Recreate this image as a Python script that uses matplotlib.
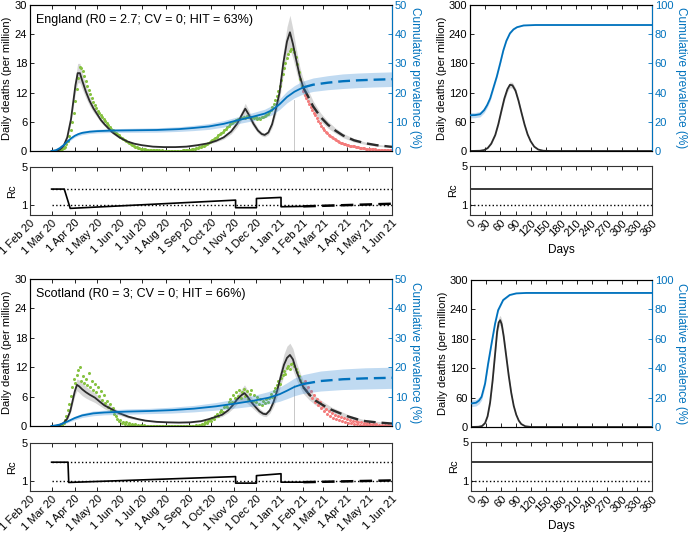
import numpy as np
import matplotlib
matplotlib.use('Agg')
import matplotlib.pyplot as plt

plt.rcParams['font.family'] = ['Liberation Sans', 'DejaVu Sans']
plt.rcParams['font.size'] = 8

BLACK = '#2b2b2b'
BLUE = '#0072BD'
GREEN = '#86c240'
RED = '#f47c7c'

# ---- time axis of the left panels (days since 1 Feb 2020) ----
month_labels = ['1 Feb 20', '1 Mar 20', '1 Apr 20', '1 May 20', '1 Jun 20', '1 Jul 20',
                '1 Aug 20', '1 Sep 20', '1 Oct 20', '1 Nov 20', '1 Dec 20', '1 Jan 21',
                '1 Feb 21', '1 Mar 21', '1 Apr 21', '1 May 21', '1 Jun 21']
month_dates = np.array(['2020-02-01', '2020-03-01', '2020-04-01', '2020-05-01', '2020-06-01',
                        '2020-07-01', '2020-08-01', '2020-09-01', '2020-10-01', '2020-11-01',
                        '2020-12-01', '2021-01-01', '2021-02-01', '2021-03-01', '2021-04-01',
                        '2021-05-01', '2021-06-01'], dtype='datetime64[D]')
month_days = (month_dates - month_dates[0]).astype(int)

OBS_START = 29      # first observed day (1 Mar 20)
TEST_START = 367    # first day not used in fitting
PROJ_START = 367    # model switches to projection (dashed)
FIT_END = 355

# ================= England =================
eng_model_days = [29, 35, 40, 45, 50, 55, 58, 61, 64, 67, 70, 75, 80, 85, 90, 95, 100, 110, 120, 130,
                  140, 150, 165, 180, 195, 210, 225, 240, 250, 260, 270, 278, 284, 289, 294, 300,
                  306, 311, 315, 320, 325, 330, 335, 340, 345, 349, 353, 357, 362, 367, 372, 380,
                  390, 400, 410, 420, 435, 450, 465, 486]
eng_model_deaths = [0.0, 0.05, 0.3, 1.0, 2.8, 6.5, 10.0, 13.5, 16.0, 16.0, 14.5, 12.2, 10.3, 8.8,
                    7.6, 6.4, 5.5, 3.9, 2.8, 2.0, 1.5, 1.2, 0.9, 0.8, 0.8, 0.9, 1.2, 1.6, 2.1, 2.8,
                    4.0, 5.6, 7.3, 8.7, 7.4, 5.6, 4.2, 3.5, 3.3, 3.8, 5.5, 8.5, 12.0, 18.0, 22.5,
                    24.4, 22.0, 19.0, 15.5, 13.0, 11.6, 9.2, 7.0, 5.4, 4.2, 3.2, 2.2, 1.6, 1.2, 0.85]
eng_model_band = [0.0, 0.02, 0.05, 0.15, 0.35, 0.7, 1.1, 1.5, 2.0, 2.0, 1.7, 1.3, 1.0, 0.8, 0.6,
                  0.5, 0.4, 0.3, 0.2, 0.15, 0.1, 0.1, 0.08, 0.08, 0.08, 0.1, 0.15, 0.2, 0.25, 0.35,
                  0.5, 0.7, 0.9, 1.1, 0.9, 0.7, 0.5, 0.4, 0.4, 0.45, 0.7, 1.0, 1.5, 2.3, 3.0, 3.5,
                  3.0, 2.4, 1.9, 1.6, 1.4, 1.1, 0.85, 0.7, 0.55, 0.45, 0.35, 0.25, 0.2, 0.15]
eng_prev_days = [29, 35, 40, 45, 50, 55, 60, 65, 70, 80, 90, 110, 140, 170, 200, 220, 240, 260,
                 280, 300, 315, 325, 335, 345, 355, 362, 367, 380, 400, 420, 440, 460, 486]
eng_prev = [0.0, 0.3, 1.0, 2.0, 3.2, 4.3, 5.2, 5.8, 6.2, 6.6, 6.8, 7.0, 7.1, 7.2, 7.5, 7.9, 8.4,
            9.3, 10.6, 11.8, 12.8, 14.0, 16.0, 18.5, 20.3, 21.2, 21.8, 22.7, 23.4, 23.9, 24.2,
            24.4, 24.6]
eng_prev_band = [0.0, 0.1, 0.2, 0.3, 0.4, 0.5, 0.5, 0.55, 0.6, 0.6, 0.6, 0.65, 0.7, 0.75, 0.8,
                 0.9, 1.0, 1.1, 1.2, 1.4, 1.5, 1.6, 1.8, 2.0, 2.1, 2.2, 2.2, 2.3, 2.4, 2.5, 2.5,
                 2.5, 2.5]
# observed daily deaths every second day, from OBS_START (fitted) and TEST_START (not fitted)
eng_obs_fit = [0.0, 0.0, 0.0, 0.05, 0.1, 0.15, 0.25, 0.4, 0.6, 0.9,
               1.4, 2.1, 3.0, 4.3, 5.9, 7.9, 10.2, 12.8, 15.0, 17.3,
               17.0, 16.4, 15.4, 14.3, 13.4, 12.5, 11.7, 10.9, 10.1, 9.4,
               8.8, 8.3, 7.8, 7.3, 6.9, 6.5, 6.1, 5.7, 5.3, 4.9,
               4.6, 4.3, 4.0, 3.7, 3.4, 3.2, 2.9, 2.7, 2.4, 2.2,
               2.0, 1.8, 1.6, 1.4, 1.2, 1.0, 0.9, 0.8, 0.7, 0.6,
               0.5, 0.45, 0.4, 0.35, 0.3, 0.3, 0.25, 0.25, 0.2, 0.2,
               0.15, 0.15, 0.15, 0.1, 0.15, 0.1, 0.1, 0.1, 0.1, 0.1,
               0.1, 0.1, 0.1, 0.1, 0.1, 0.1, 0.1, 0.1, 0.15, 0.15,
               0.2, 0.2, 0.25, 0.3, 0.35, 0.4, 0.5, 0.55, 0.65, 0.75,
               0.85, 1.0, 1.1, 1.3, 1.45, 1.6, 1.8, 2.0, 2.2, 2.45,
               2.7, 2.9, 3.2, 3.5, 3.7, 4.0, 4.3, 4.6, 4.9, 5.2,
               5.5, 5.7, 5.9, 6.1, 6.3, 6.5, 6.6, 6.8, 6.7, 7.0,
               6.8, 7.1, 6.9, 7.0, 6.8, 7.0, 6.7, 6.9, 6.6, 6.8,
               6.6, 6.9, 7.0, 7.2, 7.5, 7.7, 8.1, 8.5, 9.0, 9.6,
               10.4, 11.3, 12.3, 13.4, 14.6, 15.8, 17.0, 18.1, 19.2, 20.0,
               20.6, 21.0, 20.9, 20.4, 19.3, 17.8, 16.2, 14.8, 13.4]
eng_obs_test = [12.3, 11.6, 10.9, 10.2, 9.6, 9.0, 8.4, 7.9, 7.3, 6.8,
                6.2, 5.7, 5.2, 4.7, 4.3, 3.9, 3.6, 3.3, 3.0, 2.8,
                2.6, 2.4, 2.2, 2.0, 1.85, 1.7, 1.6, 1.5, 1.4, 1.3,
                1.2, 1.1, 1.05, 1.0, 0.95, 0.9, 0.8, 0.75, 0.7, 0.65,
                0.6, 0.55, 0.5, 0.5, 0.45, 0.45, 0.4, 0.35, 0.35, 0.3,
                0.3, 0.3, 0.25, 0.25, 0.2, 0.2, 0.2, 0.15, 0.15, 0.15]
eng_rc_days = [29, 46, 54, 276, 276, 304, 304, 337, 337, 367]
eng_rc = [2.7, 2.7, 0.69, 1.55, 0.76, 0.76, 1.72, 1.83, 0.86, 0.9]
eng_rc_proj_days = [367, 486]
eng_rc_proj = [0.9, 1.17]
eng_r0 = 2.7
eng_fit_line_top = 10.5
eng_title = 'England (R0 = 2.7; CV = 0; HIT = 63%)'

# England, unmitigated epidemic (right panels)
eng_free_days = [0, 20, 28, 35, 42, 50, 56, 62, 68, 74, 79, 84, 90, 96, 102, 108, 114, 120, 127,
                 135, 145, 160, 360]
eng_free_deaths = [0, 0.5, 2, 6, 15, 33, 55, 82, 108, 127, 136, 135, 124, 103, 78, 54, 34, 20, 9,
                   3, 0.5, 0, 0]
eng_free_band = [0, 0.1, 0.3, 0.8, 1.5, 2.5, 3.5, 4.5, 5, 5.5, 6, 6, 5.5, 5, 4, 3, 2, 1.2, 0.6,
                 0.3, 0.1, 0, 0]
eng_free_prev_days = [0, 10, 20, 28, 34, 40, 46, 53, 60, 66, 72, 79, 86, 93, 106, 130, 360]
eng_free_prev = [24.5, 24.6, 25.2, 28, 31.5, 36.1, 43, 51, 60.5, 69, 75.5, 80.6, 83.3, 84.8, 86,
                 86.3, 86.3]
eng_free_prev_band = [1.8, 1.8, 1.8, 1.8, 1.7, 1.6, 1.5, 1.3, 1.1, 0.9, 0.7, 0.5, 0.4, 0.3, 0.3,
                      0.3, 0.3]

# ================= Scotland =================
sco_model_days = [29, 35, 40, 45, 50, 54, 57, 60, 63, 66, 70, 75, 80, 87, 95, 100, 110, 120, 132,
                  145, 155, 170, 185, 200, 215, 230, 240, 250, 258, 266, 272, 278, 284, 288, 292,
                  297, 302, 308, 313, 317, 322, 327, 332, 337, 341, 345, 349, 353, 358, 363, 367,
                  375, 383, 395, 405, 418, 428, 440, 450, 465, 486]
sco_model_deaths = [0, 0.05, 0.2, 0.6, 1.5, 3.0, 5.0, 7.0, 8.4, 8.1, 7.5, 6.9, 6.4, 5.8, 4.8, 4.2,
                    3.4, 2.6, 1.9, 1.4, 1.1, 0.85, 0.75, 0.7, 0.75, 1.0, 1.4, 1.9, 2.3, 3.2, 4.2,
                    5.4, 6.3, 6.7, 6.0, 4.9, 4.0, 3.0, 2.5, 2.4, 3.2, 4.9, 7.3, 10.3, 12.5, 13.9,
                    14.5, 13.6, 11.1, 9.2, 7.9, 6.4, 5.2, 4.1, 3.3, 2.5, 1.9, 1.35, 1.0, 0.75, 0.5]
sco_model_band = [0, 0.02, 0.05, 0.1, 0.25, 0.45, 0.7, 0.9, 1.2, 1.3, 1.3, 1.2, 1.1, 1.0, 0.8,
                  0.7, 0.55, 0.4, 0.3, 0.2, 0.15, 0.12, 0.1, 0.1, 0.1, 0.15, 0.2, 0.3, 0.35, 0.5,
                  0.7, 0.9, 1.3, 1.7, 1.4, 1.0, 0.8, 0.6, 0.5, 0.5, 0.6, 0.9, 1.3, 1.8, 2.2, 2.4,
                  2.4, 2.2, 1.8, 1.5, 1.3, 1.1, 0.9, 0.7, 0.55, 0.45, 0.35, 0.3, 0.25, 0.2, 0.15]
sco_prev_days = [29, 35, 40, 50, 60, 70, 85, 100, 130, 160, 190, 220, 250, 280, 300, 320, 335,
                 345, 355, 362, 367, 390, 420, 450, 486]
sco_prev = [0, 0.2, 0.5, 1.5, 2.7, 3.6, 4.3, 4.6, 4.9, 5.1, 5.4, 5.9, 6.7, 7.8, 8.6, 9.6, 10.8,
            12.0, 13.3, 13.9, 14.3, 15.3, 15.9, 16.2, 16.4]
sco_prev_band = [0, 0.1, 0.2, 0.4, 0.6, 0.7, 0.8, 0.8, 0.9, 0.9, 1.0, 1.1, 1.3, 1.6, 1.8, 2.1,
                 2.4, 2.7, 3.0, 3.1, 3.2, 3.4, 3.5, 3.6, 3.6]
sco_obs_fit = [0.0, 0.0, 0.0, 0.0, 0.0, 0.1, 0.1, 0.3, 0.6, 1.2,
               2.0, 3.2, 4.5, 6.2, 8.0, 9.6, 8.8, 10.5, 11.5, 12.1,
               9.2, 10.3, 8.7, 9.6, 8.3, 10.8, 8.0, 9.1, 7.4, 8.6,
               7.0, 7.9, 6.2, 7.1, 5.4, 6.3, 4.6, 5.2, 3.9, 4.4,
               3.3, 3.6, 2.4, 2.0, 1.5, 1.1, 1.3, 0.7, 0.9, 0.4,
               0.8, 0.3, 0.6, 0.2, 0.5, 0.2, 0.4, 0.1, 0.3, 0.1,
               0.2, 0.0, 0.2, 0.0, 0.1, 0.0, 0.1, 0.0, 0.1, 0.0,
               0.0, 0.1, 0.0, 0.0, 0.1, 0.0, 0.0, 0.0, 0.1, 0.0,
               0.0, 0.0, 0.1, 0.0, 0.0, 0.0, 0.0, 0.1, 0.0, 0.0,
               0.0, 0.1, 0.0, 0.0, 0.1, 0.0, 0.1, 0.2, 0.1, 0.3,
               0.2, 0.5, 0.4, 0.8, 0.7, 1.1, 1.3, 1.0, 1.7, 1.5,
               2.1, 2.4, 2.0, 2.9, 3.3, 2.8, 3.8, 4.3, 3.9, 5.0,
               5.6, 4.8, 6.4, 5.7, 7.0, 6.2, 7.4, 5.8, 6.9, 7.5,
               6.1, 7.2, 5.5, 6.6, 7.3, 5.2, 6.3, 4.8, 5.9, 4.5,
               5.6, 4.3, 5.2, 4.6, 5.5, 4.9, 5.8, 6.5, 5.9, 7.2,
               7.8, 8.4, 9.1, 8.6, 9.8, 10.4, 11.2, 10.6, 11.8, 12.3,
               11.7, 12.6, 12.9, 12.2, 11.6, 11.0, 10.2, 9.3, 8.8]
sco_obs_test = [8.5, 9.2, 7.4, 8.0, 6.6, 7.1, 5.8, 6.3, 5.0, 5.6,
                4.3, 4.8, 3.6, 4.1, 3.0, 3.5, 2.5, 3.0, 2.0, 2.6,
                1.7, 2.3, 1.4, 2.0, 1.2, 1.8, 1.0, 1.6, 0.8, 1.4,
                0.7, 1.2, 0.6, 1.1, 0.5, 1.0, 0.4, 0.9, 0.3, 0.8,
                0.3, 0.7, 0.2, 0.6, 0.2, 0.5, 0.1, 0.5, 0.1, 0.4,
                0.1, 0.3, 0.1, 0.3, 0.0, 0.2, 0.0, 0.2, 0.0, 0.1]
sco_rc_days = [29, 51, 52, 276, 276, 304, 304, 337, 337, 367]
sco_rc = [3.0, 3.0, 0.89, 1.5, 0.82, 0.82, 1.6, 1.8, 0.92, 0.92]
sco_rc_proj_days = [367, 486]
sco_rc_proj = [0.92, 1.1]
sco_r0 = 3.0
sco_fit_line_top = 8.4
sco_title = 'Scotland (R0 = 3; CV = 0; HIT = 66%)'

sco_free_days = [0, 15, 22, 28, 33, 38, 43, 48, 52, 55, 58, 61, 65, 70, 75, 80, 85, 90, 95, 100,
                 108, 120, 360]
sco_free_deaths = [0, 0.5, 2, 8, 22, 50, 95, 150, 195, 213, 218, 210, 185, 145, 105, 70, 43, 25,
                   13, 6, 1.5, 0, 0]
sco_free_band = [0, 0.1, 0.4, 1, 2.5, 4, 6, 8, 9, 10, 10, 10, 9, 8, 6, 4.5, 3, 2, 1, 0.5, 0.2, 0, 0]
sco_free_prev_days = [0, 10, 16, 21, 28, 34, 41, 48, 54, 64, 77, 90, 110, 360]
sco_free_prev = [16, 16.5, 18, 20.5, 29.6, 43, 57, 70.5, 79.5, 86.4, 89.8, 90.9, 91.2, 91.2]
sco_free_prev_band = [2.2, 2.2, 2.2, 2.2, 2.1, 2.0, 1.7, 1.3, 1.0, 0.6, 0.4, 0.3, 0.3, 0.3]

free_day_ticks = list(range(0, 361, 30))


W, H = 689, 533
def box(x0, y0, x1, y1):
    return [x0 / W, 1 - y1 / H, (x1 - x0) / W, (y1 - y0) / H]


def band(ax, x, y, half, color, alpha, z):
    x = np.asarray(x); y = np.asarray(y); half = np.asarray(half)
    ax.fill_between(x, y - half, y + half, color=color, alpha=alpha, lw=0, zorder=z)


def split_line(ax, x, y, cut, color, z):
    x = np.asarray(x); y = np.asarray(y)
    ax.plot(x[x <= cut], y[x <= cut], color=color, lw=1.3, zorder=z)
    ax.plot(x[x >= cut], y[x >= cut], color=color, lw=1.7, dashes=(5, 2.5), zorder=z)


def style_axes(ax):
    for s in ax.spines.values():
        s.set_color('#333333')
        s.set_linewidth(0.8)
    ax.tick_params(direction='in', length=3, width=0.6, top=True, labelsize=8, pad=2)


def style_twin(ax2, top):
    ax2.set_ylim(0, top)
    ax2.set_yticks(np.linspace(0, top, 6))
    ax2.spines['right'].set_color(BLUE)
    ax2.tick_params(axis='y', colors=BLUE, direction='in', length=3, width=0.6,
                    labelsize=8, pad=2)
    ax2.set_ylabel('Cumulative prevalence (%)', color=BLUE, rotation=270, labelpad=10, fontsize=8.5)


def draw_country(pos_main, pos_rc, title, mdays, mdeaths, mband, pdays, prev, pband,
                 obs_fit, obs_test, rc_days, rc, rcp_days, rcp, r0, fit_top):
    ax = fig.add_axes(pos_main)
    ax2 = ax.twinx()
    band(ax, mdays, mdeaths, mband, '#8c8c8c', 0.35, 1)
    ax.plot([FIT_END, FIT_END], [0, fit_top], color='#c8c8c8', lw=0.7, zorder=1)
    fit_days = OBS_START + 2 * np.arange(len(obs_fit))
    test_days = TEST_START + 2 * np.arange(len(obs_test))
    ax.plot(fit_days, obs_fit, 'o', ms=2.2, color=GREEN, mew=0, zorder=2)
    ax.plot(test_days, obs_test, 'o', ms=2.2, color=RED, mew=0, zorder=2)
    split_line(ax, mdays, mdeaths, PROJ_START, BLACK, 3)
    band(ax2, pdays, prev, pband, '#3c8dd6', 0.32, 1)
    split_line(ax2, pdays, prev, PROJ_START, BLUE, 3)

    ax.set_xlim(0, month_days[-1])
    ax.set_ylim(0, 30)
    ax.set_yticks(range(0, 31, 6))
    ax.set_xticks(month_days)
    ax.set_xticklabels([])
    style_axes(ax)
    ax.tick_params(axis='y', right=False)
    style_twin(ax2, 50)
    ax.set_ylabel('Daily deaths (per million)', fontsize=8)
    ax.yaxis.set_label_coords(-0.05, 0.5)
    ax.text(0.017, 0.895, title, transform=ax.transAxes, fontsize=9, va='center')

    rax = fig.add_axes(pos_rc)
    rax.plot([OBS_START, month_days[-1]], [r0, r0], ':', color='black', lw=1)
    rax.plot([OBS_START, month_days[-1]], [1, 1], ':', color='black', lw=1)
    rax.plot(rc_days, rc, color='black', lw=1.2)
    rax.plot(rcp_days, rcp, color='black', lw=1.8, dashes=(5, 2.5))
    rax.set_xlim(0, month_days[-1])
    rax.set_ylim(0, 5)
    rax.set_yticks([1, 5])
    rax.set_xticks(month_days)
    rax.set_xticklabels(month_labels, rotation=45, ha='right', rotation_mode='anchor')
    style_axes(rax)
    rax.set_ylabel('Rc', fontsize=8)
    rax.yaxis.set_label_coords(-0.036, 0.5)


def draw_free(pos_main, pos_rc, fdays, fdeaths, fband, pdays, prev, pband, r0):
    ax = fig.add_axes(pos_main)
    ax2 = ax.twinx()
    band(ax, fdays, fdeaths, fband, '#8c8c8c', 0.35, 1)
    ax.plot(fdays, fdeaths, color=BLACK, lw=1.3, zorder=3)
    band(ax2, pdays, prev, pband, '#3c8dd6', 0.32, 1)
    ax2.plot(pdays, prev, color=BLUE, lw=1.3, zorder=3)
    ax.set_xlim(0, 360)
    ax.set_ylim(0, 300)
    ax.set_yticks(range(0, 301, 60))
    ax.set_xticks(free_day_ticks)
    ax.set_xticklabels([])
    style_axes(ax)
    ax.tick_params(axis='y', right=False)
    style_twin(ax2, 100)
    ax.set_ylabel('Daily deaths (per million)', fontsize=8)
    ax.yaxis.set_label_coords(-0.126, 0.5)

    rax = fig.add_axes(pos_rc)
    rax.plot([0, 360], [1, 1], ':', color='black', lw=1)
    rax.plot([0, 360], [r0, r0], color=BLACK, lw=1.3)
    rax.set_xlim(0, 360)
    rax.set_ylim(0, 5)
    rax.set_yticks([1, 5])
    rax.set_xticks(free_day_ticks)
    rax.set_xticklabels([str(d) for d in free_day_ticks], rotation=45, ha='right',
                        rotation_mode='anchor')
    style_axes(rax)
    rax.set_ylabel('Rc', fontsize=8)
    rax.yaxis.set_label_coords(-0.066, 0.5)
    rax.set_xlabel('Days', fontsize=8.5, labelpad=4)


fig = plt.figure(figsize=(6.89, 5.33), dpi=100)

draw_country(box(30, 5, 392, 151), box(30, 167, 392, 215), eng_title,
             eng_model_days, eng_model_deaths, eng_model_band, eng_prev_days, eng_prev,
             eng_prev_band, eng_obs_fit, eng_obs_test, eng_rc_days, eng_rc,
             eng_rc_proj_days, eng_rc_proj, eng_r0, eng_fit_line_top)
draw_free(box(470, 5, 652, 151), box(470, 166, 652, 215), eng_free_days, eng_free_deaths,
          eng_free_band, eng_free_prev_days, eng_free_prev, eng_free_prev_band, eng_r0)

draw_country(box(30, 279, 392, 426), box(30, 443, 392, 491), sco_title,
             sco_model_days, sco_model_deaths, sco_model_band, sco_prev_days, sco_prev,
             sco_prev_band, sco_obs_fit, sco_obs_test, sco_rc_days, sco_rc,
             sco_rc_proj_days, sco_rc_proj, sco_r0, sco_fit_line_top)
draw_free(box(471, 280, 652, 427), box(471, 442, 652, 491), sco_free_days, sco_free_deaths,
          sco_free_band, sco_free_prev_days, sco_free_prev, sco_free_prev_band, sco_r0)

fig.savefig('out.png', dpi=100)
